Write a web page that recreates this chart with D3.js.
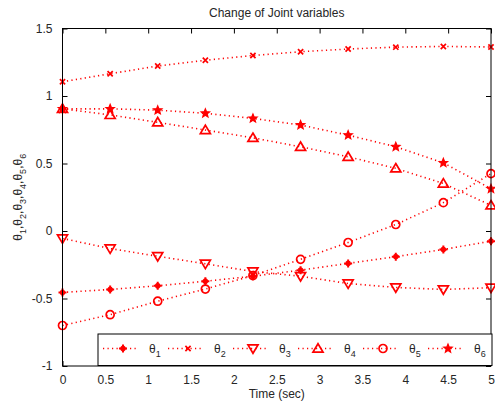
<!DOCTYPE html>
<html>
<head>
<meta charset="utf-8">
<script src="https://cdn.jsdelivr.net/npm/d3@7"></script>
<style>
  html, body { margin: 0; padding: 0; background: #fff; }
  svg { display: block; font-family: "Liberation Sans", Arial, sans-serif; }
</style>
</head>
<body>
<svg id="chart" width="495" height="405"></svg>
<script>
// Sample times (sec)
const time = [0, 0.556, 1.111, 1.667, 2.222, 2.778, 3.333, 3.889, 4.444, 5];

// Joint variables at each sample time
const theta1 = [-0.455, -0.433, -0.406, -0.372, -0.335, -0.29, -0.24, -0.19, -0.137, -0.075];
const theta2 = [1.105, 1.165, 1.222, 1.265, 1.300, 1.328, 1.348, 1.362, 1.367, 1.363];
const theta3 = [-0.055, -0.13, -0.187, -0.243, -0.30, -0.335, -0.389, -0.418, -0.433, -0.42];
const theta4 = [0.905, 0.86, 0.805, 0.748, 0.69, 0.624, 0.55, 0.464, 0.352, 0.19];
const theta5 = [-0.70, -0.62, -0.52, -0.43, -0.33, -0.21, -0.085, 0.048, 0.21, 0.425];
const theta6 = [0.905, 0.905, 0.895, 0.872, 0.834, 0.785, 0.71, 0.624, 0.505, 0.313];

const seriesNames = ["1", "2", "3", "4", "5", "6"];
const seriesMarkers = ["asterisk", "x", "triDown", "triUp", "circle", "star"];

const xTicks = [0, 0.5, 1, 1.5, 2, 2.5, 3, 3.5, 4, 4.5, 5];
const yTicks = [-1, -0.5, 0, 0.5, 1, 1.5];

const titleText = "Change of Joint variables";
const xLabelText = "Time (sec)";

const series = [theta1, theta2, theta3, theta4, theta5, theta6].map((vals, i) => ({
  name: seriesNames[i],
  marker: seriesMarkers[i],
  points: vals.map((v, j) => ({ t: time[j], v }))
}));

const svg = d3.select("#chart");
const red = "#ff0000";

const plot = { left: 62.5, right: 491, top: 28.5, bottom: 366 };
const x = d3.scaleLinear().domain([0, 5]).range([plot.left, plot.right]);
const y = d3.scaleLinear().domain([-1, 1.5]).range([plot.bottom, plot.top]);

// Marker path builders, centred on the origin
function markerPath(type) {
  switch (type) {
    case "circle": {
      const r = 4;
      return `M${r},0A${r},${r} 0 1,1 ${-r},0A${r},${r} 0 1,1 ${r},0Z`;
    }
    case "triUp": {
      const s = 4.8;
      return `M0,${-s}L${s * 1.05},${s * 0.75}L${-s * 1.05},${s * 0.75}Z`;
    }
    case "triDown": {
      const s = 4.8;
      return `M0,${s}L${s * 1.05},${-s * 0.75}L${-s * 1.05},${-s * 0.75}Z`;
    }
    case "x": {
      const s = 2.6;
      return `M${-s},${-s}L${s},${s}M${-s},${s}L${s},${-s}`;
    }
    case "asterisk": {
      const s = 4, d = 2;
      return `M${-s},0L${s},0M0,${-s}L0,${s}M${-d},${-d}L${d},${d}M${-d},${d}L${d},${-d}`;
    }
    case "star": {
      const ro = 4.3, ri = 1.9;
      let p = "";
      for (let k = 0; k < 10; k++) {
        const r = k % 2 === 0 ? ro : ri;
        const a = -Math.PI / 2 + k * Math.PI / 5;
        p += (k === 0 ? "M" : "L") + (r * Math.cos(a)).toFixed(2) + "," + (r * Math.sin(a)).toFixed(2);
      }
      return p + "Z";
    }
  }
}

function markerStroke(type) {
  if (type === "asterisk") return 2;
  if (type === "star") return 1.3;
  return 1.7;
}

// Axes background
const g = svg.append("g");
g.append("rect")
  .attr("x", plot.left).attr("y", plot.top)
  .attr("width", plot.right - plot.left).attr("height", plot.bottom - plot.top)
  .attr("fill", "#fff");

// Ticks pointing inward on all four sides
const tickLen = 5;
const axisBottom = d3.axisBottom(x).tickValues(xTicks).tickSize(-tickLen).tickPadding(9)
  .tickFormat(d => String(d));
const axisTop = d3.axisTop(x).tickValues(xTicks).tickSize(-tickLen).tickFormat("");
const axisLeft = d3.axisLeft(y).tickValues(yTicks).tickSize(-tickLen).tickPadding(10)
  .tickFormat(d => String(d));
const axisRight = d3.axisRight(y).tickValues(yTicks).tickSize(-tickLen).tickFormat("");

function styleAxis(sel) {
  sel.select(".domain").remove();
  sel.selectAll(".tick line").attr("stroke", "#000").attr("stroke-width", 1);
  sel.selectAll(".tick text")
    .attr("fill", "#262626")
    .style("font-family", "'Liberation Sans', Arial, sans-serif")
    .style("font-size", "12px");
}

g.append("g").attr("transform", `translate(0,${plot.bottom})`).call(axisBottom).call(styleAxis);
g.append("g").attr("transform", `translate(0,${plot.top})`).call(axisTop).call(styleAxis);
g.append("g").attr("transform", `translate(${plot.left},0)`).call(axisLeft).call(styleAxis);
g.append("g").attr("transform", `translate(${plot.right},0)`).call(axisRight).call(styleAxis);

// Data lines and markers
const line = d3.line().x(d => x(d.t)).y(d => y(d.v));
const dataG = svg.append("g");

series.forEach(s => {
  dataG.append("path")
    .datum(s.points)
    .attr("d", line)
    .attr("fill", "none")
    .attr("stroke", red)
    .attr("stroke-width", 1.6)
    .attr("stroke-dasharray", "1.2,3.3");
});

series.forEach(s => {
  const filled = s.marker === "star";
  dataG.selectAll(null)
    .data(s.points)
    .join("path")
    .attr("transform", d => `translate(${x(d.t)},${y(d.v)})`)
    .attr("d", markerPath(s.marker))
    .attr("fill", filled ? red : "none")
    .attr("stroke", red)
    .attr("stroke-width", markerStroke(s.marker))
    .attr("stroke-linejoin", "miter");
});

// Box outline on top
svg.append("rect")
  .attr("x", plot.left).attr("y", plot.top)
  .attr("width", plot.right - plot.left).attr("height", plot.bottom - plot.top)
  .attr("fill", "none").attr("stroke", "#000").attr("stroke-width", 1);

// Legend
const legend = svg.append("g");
const legBox = { x: 98, y: 334, w: 394, h: 31.5 };
legend.append("rect")
  .attr("x", legBox.x).attr("y", legBox.y)
  .attr("width", legBox.w).attr("height", legBox.h)
  .attr("fill", "#fff").attr("stroke", "#000").attr("stroke-width", 1);

const legY = legBox.y + 14.5;
const legStep = 65;
series.forEach((s, i) => {
  const x0 = 103 + i * legStep;
  legend.append("line")
    .attr("x1", x0).attr("x2", x0 + 35)
    .attr("y1", legY).attr("y2", legY)
    .attr("stroke", red).attr("stroke-width", 1.6)
    .attr("stroke-dasharray", "1.2,3.3");
  legend.append("path")
    .attr("transform", `translate(${x0 + 20},${legY})`)
    .attr("d", markerPath(s.marker))
    .attr("fill", s.marker === "star" ? red : "none")
    .attr("stroke", red)
    .attr("stroke-width", markerStroke(s.marker));
  const t = legend.append("text")
    .attr("x", x0 + 46).attr("y", legY + 4)
    .attr("fill", "#262626")
    .style("font-size", "12px");
  t.append("tspan").text("θ");
  t.append("tspan").attr("dy", 4).style("font-size", "9px").text(s.name);
});

// Title
svg.append("text")
  .attr("x", (plot.left + plot.right) / 2).attr("y", 17)
  .attr("text-anchor", "middle")
  .attr("fill", "#262626")
  .style("font-size", "12px")
  .text(titleText);

// X axis label
svg.append("text")
  .attr("x", (plot.left + plot.right) / 2).attr("y", 398)
  .attr("text-anchor", "middle")
  .attr("fill", "#262626")
  .style("font-size", "12px")
  .text(xLabelText);

// Y axis label with subscripts
const yl = svg.append("text")
  .attr("transform", `translate(22,${(plot.top + plot.bottom) / 2}) rotate(-90)`)
  .attr("text-anchor", "middle")
  .attr("fill", "#262626")
  .style("font-size", "12px");
seriesNames.forEach((n, i) => {
  yl.append("tspan").attr("dy", i === 0 ? 0 : -4).text((i === 0 ? "" : ",") + "θ");
  yl.append("tspan").attr("dy", 4).style("font-size", "9px").text(n);
});
</script>
</body>
</html>
